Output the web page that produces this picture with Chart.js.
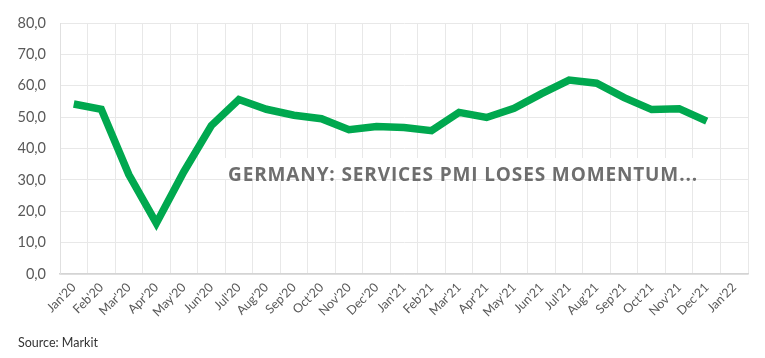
<!DOCTYPE html>
<html>
<head>
<meta charset="utf-8">
<script src="https://cdn.jsdelivr.net/npm/chart.js@4/dist/chart.umd.min.js"></script>
<style>
  html, body { margin: 0; padding: 0; background: #fff; }
  #wrap { position: relative; width: 765px; height: 358px; }
</style>
</head>
<body>
<div id="wrap"><canvas id="pmiChart" width="765" height="358"></canvas></div>
<script>
// Monthly labels, Jan'20 .. Jan'22
const months = ["Jan'20", "Feb'20", "Mar'20", "Apr'20", "May'20", "Jun'20", "Jul'20", "Aug'20",
    "Sep'20", "Oct'20", "Nov'20", "Dec'20", "Jan'21", "Feb'21", "Mar'21", "Apr'21", "May'21",
    "Jun'21", "Jul'21", "Aug'21", "Sep'21", "Oct'21", "Nov'21", "Dec'21", "Jan'22"];

// Germany services PMI
const servicesPmi = [54.2, 52.5, 31.7, 16.2, 32.6, 47.3, 55.6, 52.5, 50.6, 49.5, 46.0, 47.0,
    46.7, 45.7, 51.5, 49.9, 52.8, 57.5, 61.8, 60.8, 56.2, 52.4, 52.7, 48.7];

const yTicks = [0, 10, 20, 30, 40, 50, 60, 70, 80];

const headline = 'GERMANY: SERVICES PMI LOSES MOMENTUM...';
const sourceText = 'Source: Markit';

const overlayText = {
    id: 'overlayText',
    afterDatasetsDraw(chart) {
        const ctx = chart.ctx;
        ctx.save();
        // white box behind the headline
        ctx.fillStyle = '#ffffff';
        ctx.fillRect(222, 158, 482, 21);
        ctx.font = 'bold 19px "Open Sans", sans-serif';
        ctx.fillStyle = '#6e6e6e';
        ctx.textBaseline = 'alphabetic';
        ctx.letterSpacing = '0px';
        const w = ctx.measureText(headline).width;
        const spacing = Math.max(0, (469 - w) / (headline.length - 1));
        ctx.letterSpacing = spacing.toFixed(2) + 'px';
        ctx.fillText(headline, 228, 181);
        ctx.letterSpacing = '0px';
        ctx.font = '12.5px Lato, "Open Sans", sans-serif';
        ctx.fillStyle = '#333333';
        ctx.fillText(sourceText, 18, 347);
        ctx.restore();
    }
};

const ctx = document.getElementById('pmiChart').getContext('2d');
new Chart(ctx, {
    type: 'line',
    data: {
        labels: months,
        datasets: [{
            label: 'Services PMI',
            data: servicesPmi,
            borderColor: '#00a84f',
            backgroundColor: '#00a84f',
            borderWidth: 7.5,
            pointRadius: 0,
            tension: 0,
            borderJoinStyle: 'miter',
            borderCapStyle: 'butt'
        }]
    },
    options: {
        responsive: false,
        animation: false,
        layout: { padding: { top: 23, right: 17, bottom: 0, left: 0 } },
        plugins: {
            legend: { display: false },
            tooltip: { enabled: false }
        },
        scales: {
            x: {
                offset: true,
                grid: { offset: true, color: '#e8e8e8', drawTicks: false },
                border: { color: '#d4d4d4', width: 1.5 },
                ticks: {
                    autoSkip: false,
                    maxRotation: 45,
                    minRotation: 45,
                    padding: 6,
                    color: '#595959',
                    font: { family: 'Lato, "Open Sans", sans-serif', size: 12.5 }
                },
                afterFit(scale) { scale.height = 84; }
            },
            y: {
                min: 0,
                max: 80,
                afterBuildTicks(scale) { scale.ticks = yTicks.map(v => ({ value: v })); },
                grid: { color: '#e8e8e8', drawTicks: false },
                border: { color: '#e0e0e0' },
                ticks: {
                    padding: 14,
                    color: '#595959',
                    font: { family: 'Lato, "Open Sans", sans-serif', size: 14.5 },
                    callback: v => v.toFixed(1).replace('.', ',')
                },
                afterFit(scale) { scale.width = 60; }
            }
        }
    },
    plugins: [overlayText]
});
</script>
</body>
</html>
